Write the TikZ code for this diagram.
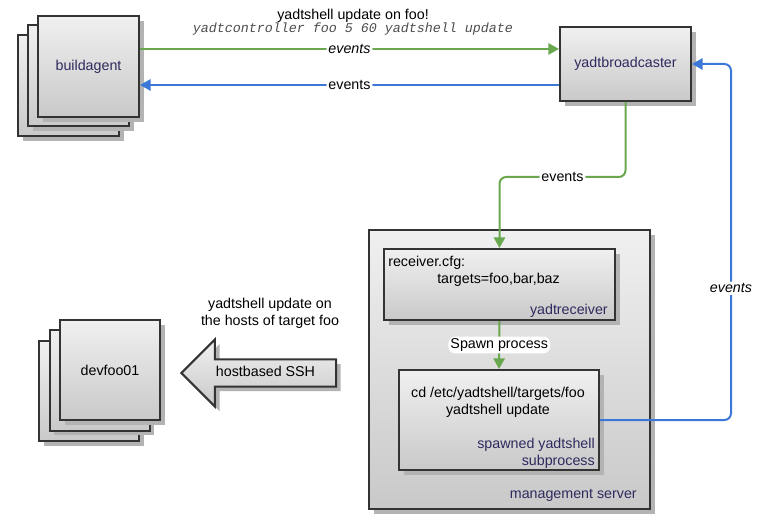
\documentclass[tikz,border=0pt]{standalone}
\usepackage{fontspec}
\setmainfont{Liberation Sans}
\setmonofont{Liberation Mono}
\usepackage{tikz}
\usetikzlibrary{arrows.meta, shadows, shapes.arrows}
\definecolor{boxline}{HTML}{333333}
\definecolor{boxtop}{HTML}{F0F0F0}
\definecolor{boxbot}{HTML}{C9C9C9}
\definecolor{shadowgray}{HTML}{B3B3B3}
\definecolor{navy}{HTML}{2E2A5E}
\definecolor{evgreen}{HTML}{6AA84F}
\definecolor{evblue}{HTML}{3C78D8}
\newcommand{\dfont}{\fontsize{10.7}{12.8}\selectfont}
\tikzset{>={Triangle[length=8pt,width=8.5pt]}}
\tikzset{
  box/.style={draw=boxline, line width=1.5pt, top color=boxtop, bottom color=boxbot,
    drop shadow={shadow xshift=3.5pt, shadow yshift=-3.5pt, fill=shadowgray, opacity=1},
    font=\dfont, text=navy},
  txt/.style={font=\dfont, inner sep=0pt},
  lbl/.style={font=\dfont, fill=white, text=black, inner sep=1.5pt},
  greenline/.style={evgreen, line width=1.5pt, ->, rounded corners=5pt},
  blueline/.style={evblue, line width=1.5pt, ->, rounded corners=5pt}
}

\begin{document}
\begin{tikzpicture}[x=0.75pt, y=-0.75pt]
    \useasboundingbox (0,0) rectangle (777,530);

    % buildagent stack
    \node[box, minimum width=75.75pt, minimum height=75.75pt] (ba3) at (68.5,85.5) {};
    \node[box, minimum width=75.75pt, minimum height=75.75pt] (ba2) at (78.5,75.5) {};
    \node[box, minimum width=75.75pt, minimum height=75.75pt] (ba) at (88.5,66.5) {buildagent};

    \node[box, minimum width=98.25pt, minimum height=55.5pt] (bc) at (625.5,64) {yadtbroadcaster};

    \node[txt] (ttl) at (353,16) {yadtshell update on foo!};
    \node[txt, font=\fontsize{10}{12}\ttfamily\itshape, text=black!70] (cmd) at (353,29) {yadtcontroller foo 5 60 yadtshell update};

    % management server
    \node[box, minimum width=210.75pt, minimum height=209.25pt] (ms) at (509.5,369.5) {};
    \node[txt, text=navy, anchor=east] (msl) at (637,495) {management server};

    \node[box, minimum width=173.25pt, minimum height=53.25pt] (rc) at (499.5,284.5) {};
    \node[txt, anchor=west] (cfg) at (388,263) {receiver.cfg:};
    \node[txt, anchor=west] (tgt) at (437,280) {targets=foo,bar,baz};
    \node[txt, text=navy, anchor=east] (rcl) at (608,311) {yadtreceiver};

    \node[box, minimum width=150pt, minimum height=75pt] (sp) at (499,420) {};
    \node[txt, align=center] (cmd2) at (498,402) {cd /etc/yadtshell/targets/foo\\yadtshell update};
    \node[txt, text=navy, align=right, anchor=east] (spl) at (595,453) {spawned yadtshell\\subprocess};

    % devfoo01 stack
    \node[box, minimum width=75pt, minimum height=75pt] (df3) at (89,391) {};
    \node[box, minimum width=75pt, minimum height=75pt] (df2) at (99.5,380.5) {};
    \node[box, minimum width=75pt, minimum height=75pt, text=black] (df) at (110,370) {devfoo01};

    \node[box, text=black, single arrow, shape border rotate=180, minimum height=116pt,
      single arrow head extend=15pt, text height=7.5pt, text depth=2.5pt,
      inner ysep=4.4pt, inner xsep=2pt] (ssh) at (265.5,373) {hostbased SSH};
    \node[txt, align=center] (hosts) at (270,313) {yadtshell update on\\the hosts of target foo};

    % connectors
    \draw[greenline] (ba.east |- 0,49) -- node[lbl]{\itshape events} (bc.west |- 0,49);
    \draw[blueline] (bc.west |- 0,85) -- node[lbl]{events} (ba.east |- 0,85);
    \draw[greenline] (bc.south) -- (bc.south |- 0,177) -- node[lbl]{events} (rc.north |- 0,177) -- (rc.north);
    \draw[greenline] (rc.south) -- node[lbl]{Spawn process} (sp.north);
    \draw[blueline] (sp.east) -- (731,420) -- node[lbl, pos=0.37]{\itshape events} (731,64) -- (bc.east);
\end{tikzpicture}
\end{document}
